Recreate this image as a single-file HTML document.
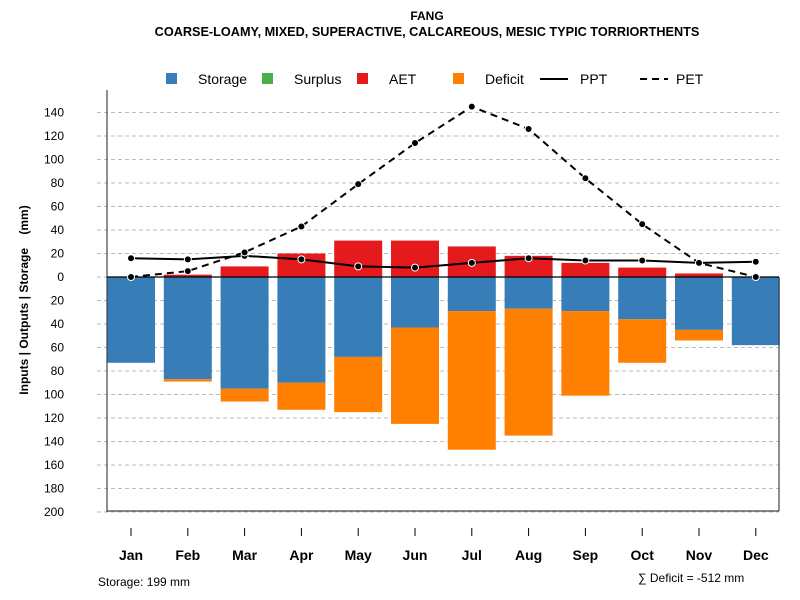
<!DOCTYPE html>
<html><head><meta charset="utf-8"><style>body{margin:0;background:#fff}svg{display:block;font-family:"Liberation Sans",sans-serif}</style></head>
<body>
<svg id="chart" width="800" height="600" xmlns="http://www.w3.org/2000/svg">
<text x="427" y="20" text-anchor="middle" font-size="12" font-weight="bold">FANG</text>
<text x="427" y="36" text-anchor="middle" font-size="12.7" font-weight="bold">COARSE-LOAMY, MIXED, SUPERACTIVE, CALCAREOUS, MESIC TYPIC TORRIORTHENTS</text>
<g id="grid"></g><g id="bars"></g>
<g id="axes"></g><g id="lines"></g>
<g font-size="14">
<rect x="166" y="73" width="11" height="11" fill="#377eb8"/><text x="198" y="84">Storage</text>
<rect x="262" y="73" width="11" height="11" fill="#4daf4a"/><text x="294" y="84">Surplus</text>
<rect x="357" y="73" width="11" height="11" fill="#e41a1c"/><text x="389" y="84">AET</text>
<rect x="453" y="73" width="11" height="11" fill="#ff7f00"/><text x="485" y="84">Deficit</text>
<line x1="540" y1="79" x2="568" y2="79" stroke="#000" stroke-width="2"/><text x="580" y="84">PPT</text>
<line x1="640" y1="79" x2="668" y2="79" stroke="#000" stroke-width="2" stroke-dasharray="7,5"/><text x="676" y="84">PET</text>
</g>
<text transform="translate(28,300) rotate(-90)" text-anchor="middle" font-size="12" font-weight="bold" style="white-space:pre">Inputs | Outputs | Storage    (mm)</text>
<text x="98" y="586" font-size="12">Storage: 199 mm</text>
<text x="638" y="582" font-size="12">∑ Deficit = -512 mm</text>
</svg>
<script>
const months=["Jan","Feb","Mar","Apr","May","Jun","Jul","Aug","Sep","Oct","Nov","Dec"];
const storage=[73,87,95,90,68,43,29,27,29,36,45,58];
const deficit=[0,2,11,23,47,82,118,108,72,37,9,0];
const aet=[0,2,9,20,31,31,26,18,12,8,3,0];
const ppt=[16,15,18,15,9,8,12,16,14,14,12,13];
const pet=[0,5,21,43,79,114,145,126,84,45,12,0];
const yTicks=[140,120,100,80,60,40,20,0,20,40,60,80,100,120,140,160,180,200];
const yVals=[140,120,100,80,60,40,20,0,-20,-40,-60,-80,-100,-120,-140,-160,-180,-200];
const NS="http://www.w3.org/2000/svg";
const y=v=>277-v*1.175;
const x=i=>131+i*56.8;
function mk(p,t,a){const e=document.createElementNS(NS,t);for(const k in a)e.setAttribute(k,a[k]);document.getElementById(p).appendChild(e);return e;}
yVals.forEach((v,i)=>{
 const g=mk('grid','line',{x1:97,x2:779,y1:y(v),y2:y(v),stroke:'#bbb','stroke-dasharray':'4,3'});
 
 
 const t=mk('axes','text',{x:64,y:y(v)+4,'font-size':12,'text-anchor':'end'});t.textContent=yTicks[i];
 
 
});
months.forEach((m,i)=>{
 const cx=x(i),w=48;
 const s=mk('bars','rect',{x:cx-w/2,y:y(0),width:w,height:y(-storage[i])-y(0),fill:'#377eb8'});
 
 
 if(deficit[i]>0){const d=mk('bars','rect',{x:cx-w/2,y:y(-storage[i]),width:w,height:y(-storage[i]-deficit[i])-y(-storage[i]),fill:'#ff7f00'});
 
 }
 if(aet[i]>0){const a=mk('bars','rect',{x:cx-w/2,y:y(aet[i]),width:w,height:y(0)-y(aet[i]),fill:'#e41a1c'});
 
 }
 const tk=mk('axes','line',{x1:cx,x2:cx,y1:528,y2:536,stroke:'#000'});
 
 
 const t=mk('axes','text',{x:cx,y:560,'font-size':14,'font-weight':'bold','text-anchor':'middle'});t.textContent=m;
 
 
});
[[107,90,107,512],[107,511,779,511],[779,277,779,511]].forEach(c=>{const l=mk('axes','line',{x1:c[0],y1:c[1],x2:c[2],y2:c[3],stroke:'#444','stroke-width':1.2});
 
 });
const z=mk('axes','line',{x1:107,x2:779,y1:y(0),y2:y(0),stroke:'#000','stroke-width':1.3});


function series(vals,name,dash){
 const p=mk('lines','polyline',{points:vals.map((v,i)=>x(i)+','+y(v)).join(' '),fill:'none',stroke:'#000','stroke-width':2,'stroke-dasharray':dash});
 
 
 vals.forEach((v,i)=>{const c=mk('lines','circle',{cx:x(i),cy:y(v),r:3.5,fill:'#000',stroke:'#fff','stroke-width':1});
 
 });
}
series(ppt,'ppt','none');
series(pet,'pet','7,5');
</script>
</body></html>
